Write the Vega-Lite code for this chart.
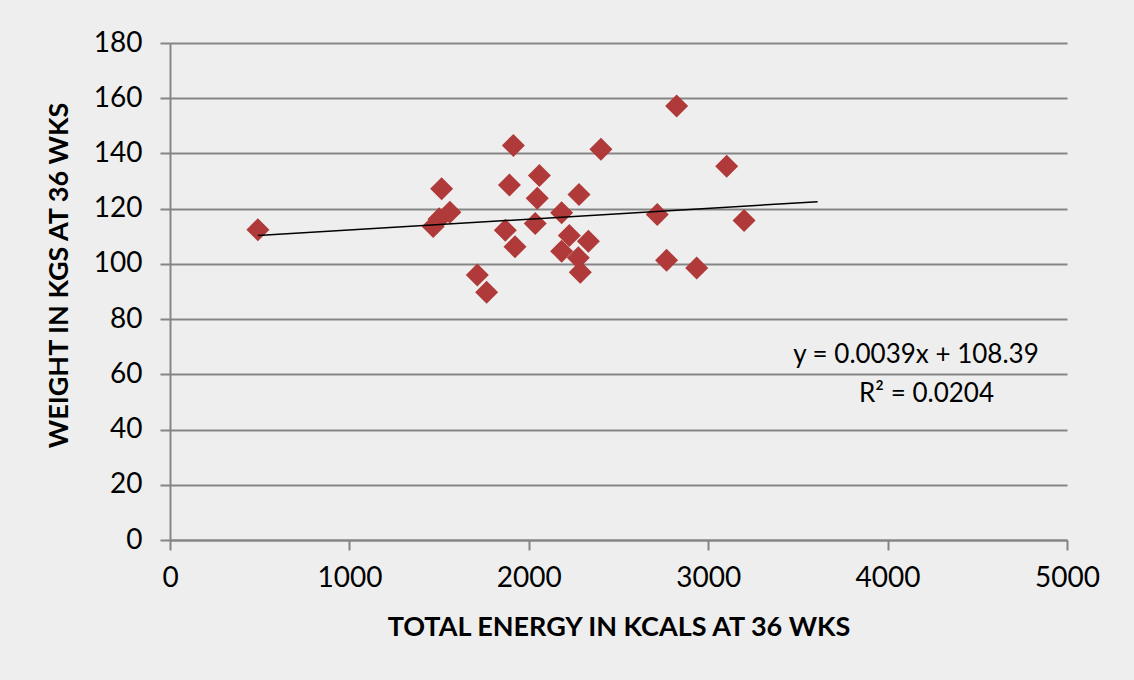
{
  "$schema": "https://vega.github.io/schema/vega-lite/v6.json",
  "autosize": "none",
  "padding": {"left": 170, "top": 43, "right": 67, "bottom": 140},
  "width": 897,
  "height": 497,
  "background": "#eeeeee",
  "config": {
    "font": "Lato",
    "view": {"stroke": null},
    "axis": {
      "labelFont": "Lato",
      "labelFontSize": 28,
      "labelColor": "#000000",
      "titleFont": "Lato",
      "titleFontSize": 27,
      "titleFontWeight": "bold",
      "titleColor": "#000000",
      "domainColor": "#858585",
      "domainWidth": 2,
      "tickColor": "#858585",
      "tickWidth": 2,
      "tickSize": 10,
      "gridColor": "#858585",
      "gridWidth": 2
    }
  },
  "datasets": {
    "points": [
      {"energy": 490, "weight": 112.4},
      {"energy": 1467, "weight": 113.5},
      {"energy": 1500, "weight": 116.3},
      {"energy": 1560, "weight": 118.7},
      {"energy": 1514, "weight": 127.2},
      {"energy": 1713, "weight": 96.0},
      {"energy": 1765, "weight": 89.7},
      {"energy": 1869, "weight": 112.2},
      {"energy": 1892, "weight": 128.6},
      {"energy": 1914, "weight": 142.9},
      {"energy": 1923, "weight": 106.2},
      {"energy": 2036, "weight": 114.6},
      {"energy": 2047, "weight": 123.8},
      {"energy": 2059, "weight": 132.0},
      {"energy": 2183, "weight": 118.5},
      {"energy": 2183, "weight": 104.6},
      {"energy": 2226, "weight": 110.3},
      {"energy": 2276, "weight": 102.2},
      {"energy": 2280, "weight": 125.1},
      {"energy": 2287, "weight": 97.0},
      {"energy": 2332, "weight": 108.2},
      {"energy": 2402, "weight": 141.5},
      {"energy": 2716, "weight": 117.9},
      {"energy": 2768, "weight": 101.3},
      {"energy": 2824, "weight": 157.2},
      {"energy": 2936, "weight": 98.5},
      {"energy": 3103, "weight": 135.4},
      {"energy": 3200, "weight": 115.7}
    ],
    "trend": [
      {"energy": 490, "weight": 110.3},
      {"energy": 3610, "weight": 122.5}
    ],
    "labels": [
      {"energy": 4158, "weight": 64.2, "text": "y = 0.0039x + 108.39"},
      {"energy": 4217, "weight": 50.0, "text": "R² = 0.0204"}
    ]
  },
  "layer": [
    {
      "data": {"name": "points"},
      "mark": {"type": "point", "shape": "diamond", "filled": true, "size": 530, "color": "#b03a3a", "opacity": 1},
      "encoding": {
        "x": {
          "field": "energy", "type": "quantitative",
          "scale": {"domain": [0, 5000], "nice": false},
          "axis": {"values": [0, 1000, 2000, 3000, 4000, 5000], "format": "d", "grid": false, "title": "TOTAL ENERGY IN KCALS AT 36 WKS", "labelPadding": 14, "titlePadding": 22, "labelFlush": false}
        },
        "y": {
          "field": "weight", "type": "quantitative",
          "scale": {"domain": [0, 180], "nice": false},
          "axis": {"values": [0, 20, 40, 60, 80, 100, 120, 140, 160, 180], "grid": true, "title": "WEIGHT IN KGS AT 36 WKS", "labelPadding": 18, "titlePadding": 20, "titleY": 232, "labelFlush": false}
        }
      }
    },
    {
      "data": {"name": "trend"},
      "mark": {"type": "line", "color": "#000000", "strokeWidth": 1.5},
      "encoding": {
        "x": {"field": "energy", "type": "quantitative"},
        "y": {"field": "weight", "type": "quantitative"}
      }
    },
    {
      "data": {"name": "labels"},
      "mark": {"type": "text", "font": "Lato", "fontSize": 26, "color": "#000000", "align": "center", "baseline": "alphabetic"},
      "encoding": {
        "x": {"field": "energy", "type": "quantitative"},
        "y": {"field": "weight", "type": "quantitative"},
        "text": {"field": "text"}
      }
    }
  ]
}
